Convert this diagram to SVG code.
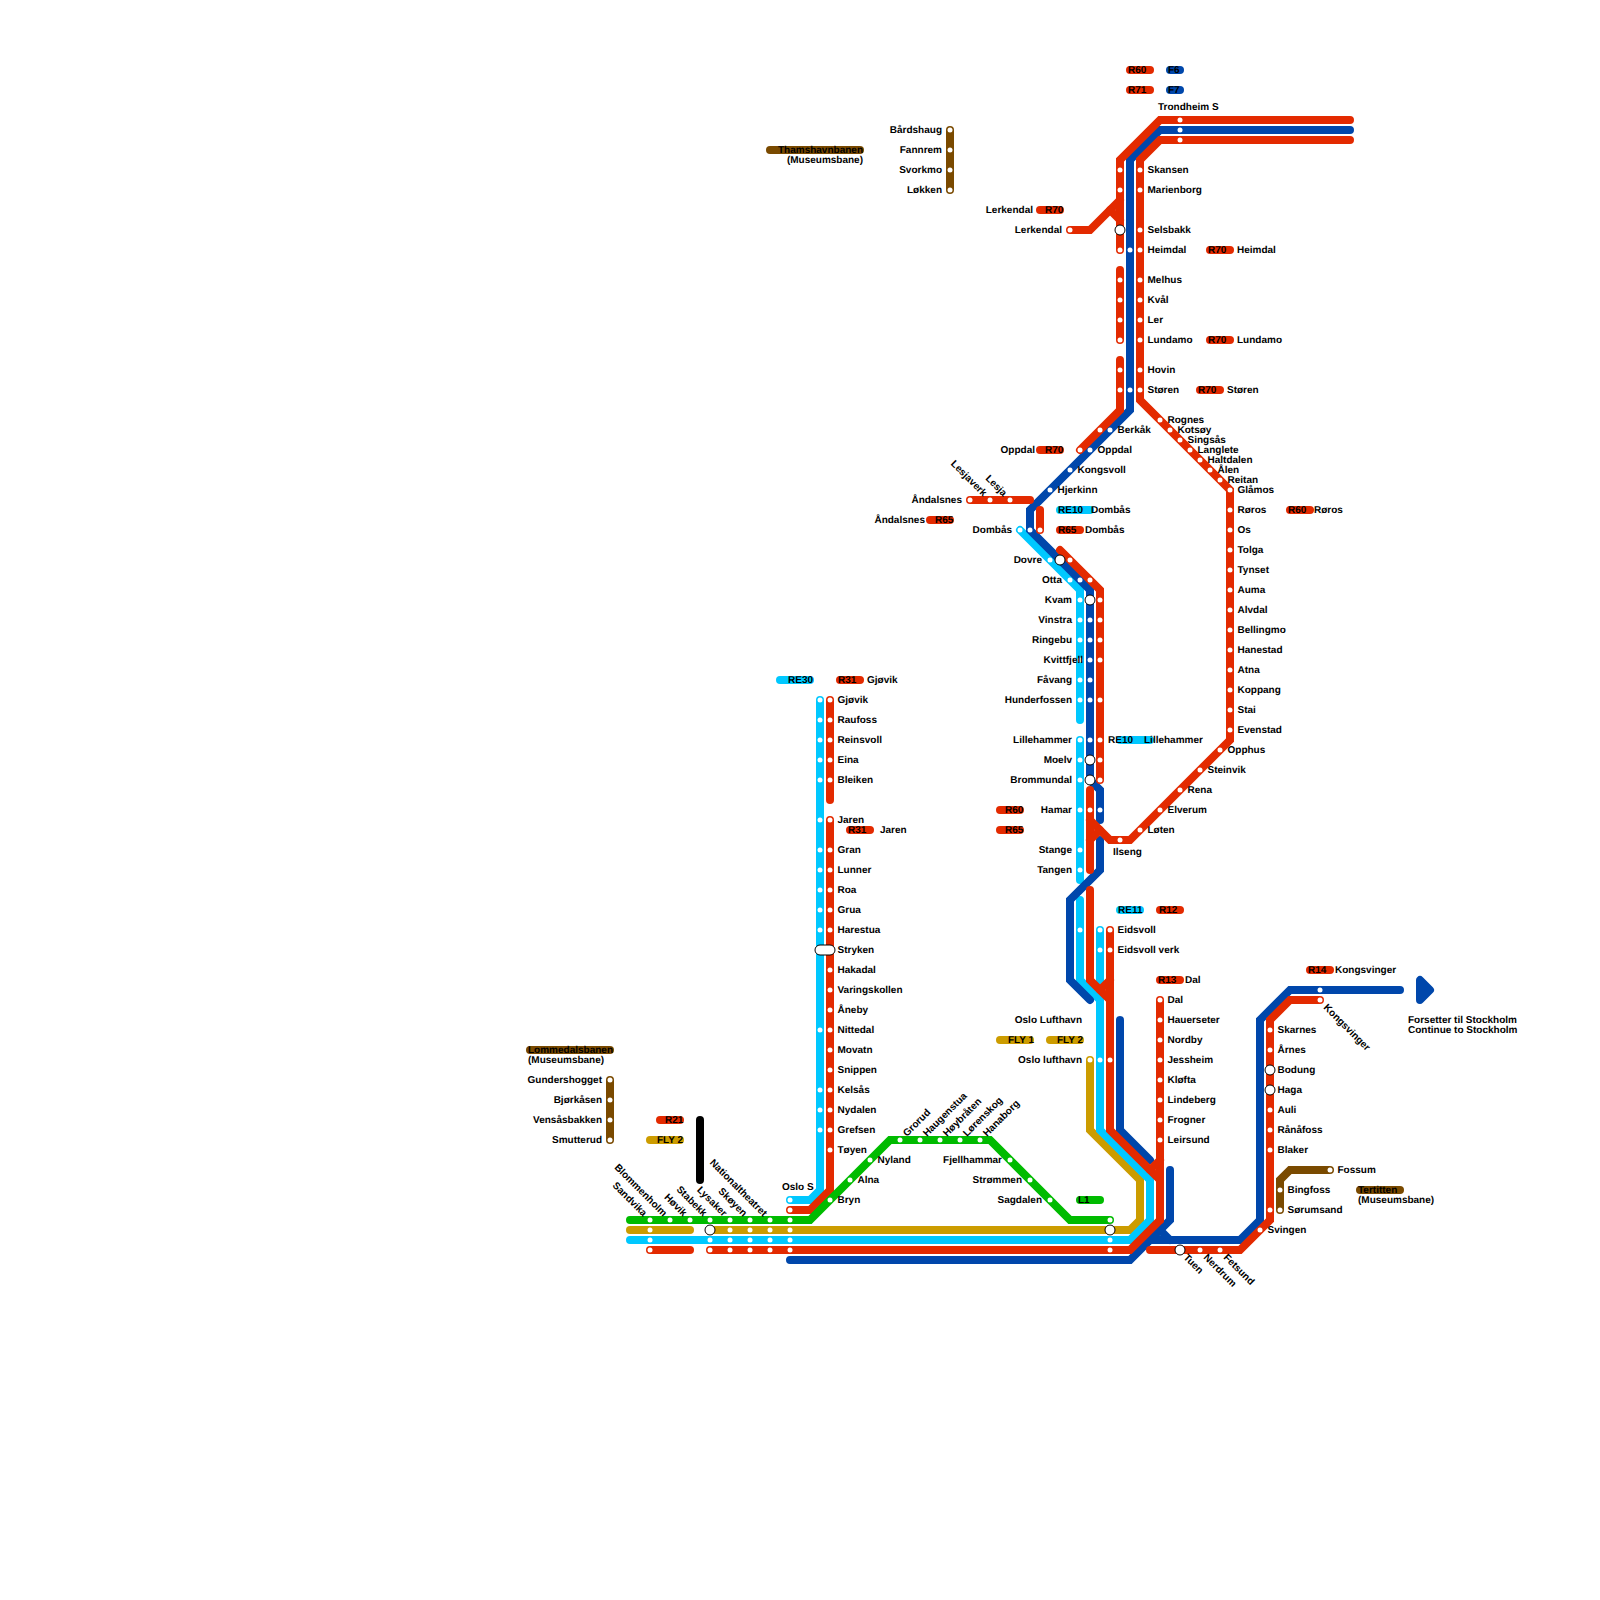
<svg xmlns="http://www.w3.org/2000/svg" width="1600" height="1600" viewBox="0 0 1600 1600">
<style>
.l{fill:none;stroke-width:8;stroke-linecap:round;stroke-linejoin:miter;stroke-miterlimit:10}
.r{stroke:#e32a00}.u{stroke:#0047ab}.c{stroke:#00c8ff}.g{stroke:#cc9c00}.n{stroke:#00bb00}.w{stroke:#7a4a00}.k{stroke:#000}
circle{fill:#fff}
.b{stroke:#000;stroke-width:1}
text{font:bold 10px "Liberation Sans",Arial,sans-serif;fill:#000;text-rendering:geometricPrecision}
.e{text-anchor:end}
</style>
<rect width="1600" height="1600" fill="#fff"/>
<g id="connectors">
<path class="l k" d="M700 1120V1180"/>
<path class="l w" d="M950 130V190"/>
<path class="l w" d="M610 1080V1140"/>
<path class="l w" d="M1280 1210V1180L1290 1170H1330"/>
<path class="l g" d="M630 1230H690"/>
<path class="l g" d="M710 1230H1130L1140 1220V1180L1090 1130V1060"/>
<path class="l c" d="M630 1240H1130L1150 1220V1180L1100 1130V1000L1080 980V900"/>
<path class="l c" d="M1100 930V990"/>
<path class="l c" d="M790 1200H810L820 1190V700"/>
<path class="l c" d="M1020 530L1080 590V720"/>
<path class="l c" d="M1080 740V880"/>
<path class="l u" d="M1350 130H1160L1130 160V410L1030 510V530L1090 590V780L1100 790V820"/>
<path class="l u" d="M1100 840V870L1070 900V980L1090 1000"/>
<path class="l u" d="M1120 1020V1130L1150 1160"/>
<path class="l u" d="M1170 1170V1220L1130 1260H790"/>
<path class="l u" d="M1150 1240H1240L1260 1220V1020L1290 990H1400"/>
<path class="l u" d="M1160 1230L1170 1240"/>
<path class="u" fill="#0047ab" stroke-width="8" stroke-linejoin="round" d="M1420 980V1000L1430 990Z"/>
<path class="l r" d="M1350 120H1160L1120 160V250"/>
<path class="l r" d="M1120 270V340"/>
<path class="l r" d="M1120 360V410L1080 450"/>
<path class="l r" d="M1350 140H1160L1140 160V400L1230 490V740L1130 840H1110L1090 820"/>
<path class="l r" d="M1070 230H1090L1120 200"/>
<path class="l r" d="M1110 210L1120 220"/>
<path class="l r" d="M970 500H1030"/>
<path class="l r" d="M1040 510V530"/>
<path class="l r" d="M1060 550L1100 590V780"/>
<path class="l r" d="M1090 790V870"/>
<path class="l r" d="M1090 840L1100 830"/>
<path class="l r" d="M1090 890V980L1110 1000V1130L1160 1180V1220L1130 1250H710"/>
<path class="l r" d="M1110 930V1000"/>
<path class="l r" d="M1100 990L1110 980"/>
<path class="l r" d="M650 1250H690"/>
<path class="l r" d="M1160 1000V1220"/>
<path class="l r" d="M1150 1170L1160 1160"/>
<path class="l r" d="M1150 1250H1240L1270 1220V1020L1290 1000H1320"/>
<path class="l r" d="M790 1210H810L830 1190V820"/>
<path class="l r" d="M830 700V800"/>
<path class="l n" d="M630 1220H810L890 1140H990L1070 1220H1110"/>
</g>
<g id="line-labels">
<g id="tag-r60-top"><path class="l r" d="M1130 70H1150"/><text x="1128" y="73">R60</text></g>
<g id="tag-f6"><path class="l u" d="M1170 70H1180"/><text x="1168" y="73">F6</text></g>
<g id="tag-r71"><path class="l r" d="M1130 90H1150"/><text x="1128" y="93">R71</text></g>
<g id="tag-f7"><path class="l u" d="M1170 90H1180"/><text x="1168" y="93">F7</text></g>
<g id="tag-thamshavn"><path class="l w" d="M770 150H860"/><text class="e" x="863" y="153">Thamshavnbanen</text><text class="e" x="863" y="163">(Museumsbane)</text></g>
<g id="tag-r70-lerkendal"><path class="l r" d="M1040 210H1060"/><text x="1045" y="213">R70</text><text class="e" x="1033" y="213">Lerkendal</text></g>
<g id="tag-r70-heimdal"><path class="l r" d="M1210 250H1230"/><text x="1208" y="253">R70</text><text x="1237" y="253">Heimdal</text></g>
<g id="tag-r70-lundamo"><path class="l r" d="M1210 340H1230"/><text x="1208" y="343">R70</text><text x="1237" y="343">Lundamo</text></g>
<g id="tag-r70-storen"><path class="l r" d="M1200 390H1220"/><text x="1198" y="393">R70</text><text x="1227" y="393">Støren</text></g>
<g id="tag-r70-oppdal"><path class="l r" d="M1040 450H1060"/><text x="1045" y="453">R70</text><text class="e" x="1035" y="453">Oppdal</text></g>
<g id="tag-re10-dombas"><path class="l c" d="M1060 510H1090"/><text x="1058" y="513">RE10</text><text x="1091" y="513">Dombås</text></g>
<g id="tag-r65-dombas"><path class="l r" d="M1060 530H1080"/><text x="1058" y="533">R65</text><text x="1085" y="533">Dombås</text></g>
<g id="tag-r65-andalsnes"><path class="l r" d="M930 520H950"/><text x="935" y="523">R65</text><text class="e" x="925" y="523">Åndalsnes</text></g>
<g id="tag-r60-roros"><path class="l r" d="M1290 510H1310"/><text x="1288" y="513">R60</text><text x="1314" y="513">Røros</text></g>
<g id="tag-re30"><path class="l c" d="M780 680H810"/><text x="788" y="683">RE30</text></g>
<g id="tag-r31-gjovik"><path class="l r" d="M840 680H860"/><text x="838" y="683">R31</text><text x="867" y="683">Gjøvik</text></g>
<g id="tag-r31-jaren"><path class="l r" d="M850 830H870"/><text x="848" y="833">R31</text><text x="880" y="833">Jaren</text></g>
<g id="tag-re10-lillehammer"><path class="l c" d="M1120 740H1150"/><text x="1108" y="743">RE10</text><text x="1144" y="743">Lillehammer</text></g>
<g id="tag-r60"><path class="l r" d="M1000 810H1020"/><text x="1005" y="813">R60</text></g>
<g id="tag-r65"><path class="l r" d="M1000 830H1020"/><text x="1005" y="833">R65</text></g>
<g id="tag-re11"><path class="l c" d="M1120 910H1140"/><text x="1118" y="913">RE11</text></g>
<g id="tag-r12"><path class="l r" d="M1160 910H1180"/><text x="1159" y="913">R12</text></g>
<g id="tag-r13"><path class="l r" d="M1160 980H1180"/><text x="1158" y="983">R13</text><text x="1185" y="983">Dal</text></g>
<g id="tag-r14"><path class="l r" d="M1310 970H1330"/><text x="1308" y="973">R14</text><text x="1335" y="973">Kongsvinger</text></g>
<g id="tag-fly1"><path class="l g" d="M1000 1040H1030"/><text x="1008" y="1043">FLY 1</text></g>
<g id="tag-fly2"><path class="l g" d="M1050 1040H1080"/><text x="1057" y="1043">FLY 2</text></g>
<g id="tag-lommedal"><path class="l w" d="M530 1050H610"/><text x="528" y="1053">Lommedalsbanen</text><text x="528" y="1063">(Museumsbane)</text></g>
<g id="tag-r21"><path class="l r" d="M660 1120H680"/><text x="665" y="1123">R21</text></g>
<g id="tag-fly2-left"><path class="l g" d="M650 1140H680"/><text x="657" y="1143">FLY 2</text></g>
<g id="tag-l1"><path class="l n" d="M1080 1200H1100"/><text x="1078" y="1203">L1</text></g>
<g id="tag-tertitten"><path class="l w" d="M1360 1190H1400"/><text x="1358" y="1193">Tertitten</text><text x="1358" y="1203">(Museumsbane)</text></g>
<g id="tag-stockholm"><text x="1408" y="1023">Forsetter til Stockholm</text><text x="1408" y="1033">Continue to Stockholm</text></g>
</g>
<g id="stations">
<g id="trondheim"><circle cx="1180" cy="120" r="2.5"/><circle cx="1180" cy="130" r="2.5"/><circle cx="1180" cy="140" r="2.5"/><text x="1158" y="110">Trondheim S</text></g>
<g id="skansen"><circle cx="1120" cy="170" r="2.5"/><circle cx="1140" cy="170" r="2.5"/><text x="1147.5" y="173">Skansen</text></g>
<g id="marienborg"><circle cx="1120" cy="190" r="2.5"/><circle cx="1140" cy="190" r="2.5"/><text x="1147.5" y="193">Marienborg</text></g>
<g id="selsbakk"><circle class="b" cx="1120" cy="230" r="5"/><circle cx="1140" cy="230" r="2.5"/><text x="1147.5" y="233">Selsbakk</text></g>
<g id="heimdal"><circle cx="1120" cy="250" r="2.5"/><circle cx="1130" cy="250" r="2.5"/><circle cx="1140" cy="250" r="2.5"/><text x="1147.5" y="253">Heimdal</text></g>
<g id="melhus"><circle cx="1120" cy="280" r="2.5"/><circle cx="1140" cy="280" r="2.5"/><text x="1147.5" y="283">Melhus</text></g>
<g id="kval"><circle cx="1120" cy="300" r="2.5"/><circle cx="1140" cy="300" r="2.5"/><text x="1147.5" y="303">Kvål</text></g>
<g id="ler"><circle cx="1120" cy="320" r="2.5"/><circle cx="1140" cy="320" r="2.5"/><text x="1147.5" y="323">Ler</text></g>
<g id="lundamo"><circle cx="1120" cy="340" r="2.5"/><circle cx="1140" cy="340" r="2.5"/><text x="1147.5" y="343">Lundamo</text></g>
<g id="hovin"><circle cx="1120" cy="370" r="2.5"/><circle cx="1140" cy="370" r="2.5"/><text x="1147.5" y="373">Hovin</text></g>
<g id="storen"><circle cx="1120" cy="390" r="2.5"/><circle cx="1130" cy="390" r="2.5"/><circle cx="1140" cy="390" r="2.5"/><text x="1147.5" y="393">Støren</text></g>
<g id="lerkendal"><circle cx="1070" cy="230" r="2.5"/><text class="e" x="1062" y="233">Lerkendal</text></g>
<g id="berkak"><circle cx="1100" cy="430" r="2.5"/><circle cx="1110" cy="430" r="2.5"/><text x="1117.5" y="433">Berkåk</text></g>
<g id="oppdal"><circle cx="1080" cy="450" r="2.5"/><circle cx="1090" cy="450" r="2.5"/><text x="1097.5" y="453">Oppdal</text></g>
<g id="kongsvoll"><circle cx="1070" cy="470" r="2.5"/><text x="1077.5" y="473">Kongsvoll</text></g>
<g id="hjerkinn"><circle cx="1050" cy="490" r="2.5"/><text x="1057.5" y="493">Hjerkinn</text></g>
<g id="rognes"><circle cx="1160" cy="420" r="2.5"/><text x="1167.5" y="423">Rognes</text></g>
<g id="kotsoy"><circle cx="1170" cy="430" r="2.5"/><text x="1177.5" y="433">Kotsøy</text></g>
<g id="singsas"><circle cx="1180" cy="440" r="2.5"/><text x="1187.5" y="443">Singsås</text></g>
<g id="langlete"><circle cx="1190" cy="450" r="2.5"/><text x="1197.5" y="453">Langlete</text></g>
<g id="haltdalen"><circle cx="1200" cy="460" r="2.5"/><text x="1207.5" y="463">Haltdalen</text></g>
<g id="alen"><circle cx="1210" cy="470" r="2.5"/><text x="1217.5" y="473">Ålen</text></g>
<g id="reitan"><circle cx="1220" cy="480" r="2.5"/><text x="1227.5" y="483">Reitan</text></g>
<g id="glamos"><circle cx="1230" cy="490" r="2.5"/><text x="1237.5" y="493">Glåmos</text></g>
<g id="roros"><circle cx="1230" cy="510" r="2.5"/><text x="1237.5" y="513">Røros</text></g>
<g id="os"><circle cx="1230" cy="530" r="2.5"/><text x="1237.5" y="533">Os</text></g>
<g id="tolga"><circle cx="1230" cy="550" r="2.5"/><text x="1237.5" y="553">Tolga</text></g>
<g id="tynset"><circle cx="1230" cy="570" r="2.5"/><text x="1237.5" y="573">Tynset</text></g>
<g id="auma"><circle cx="1230" cy="590" r="2.5"/><text x="1237.5" y="593">Auma</text></g>
<g id="alvdal"><circle cx="1230" cy="610" r="2.5"/><text x="1237.5" y="613">Alvdal</text></g>
<g id="bellingmo"><circle cx="1230" cy="630" r="2.5"/><text x="1237.5" y="633">Bellingmo</text></g>
<g id="hanestad"><circle cx="1230" cy="650" r="2.5"/><text x="1237.5" y="653">Hanestad</text></g>
<g id="atna"><circle cx="1230" cy="670" r="2.5"/><text x="1237.5" y="673">Atna</text></g>
<g id="koppang"><circle cx="1230" cy="690" r="2.5"/><text x="1237.5" y="693">Koppang</text></g>
<g id="stai"><circle cx="1230" cy="710" r="2.5"/><text x="1237.5" y="713">Stai</text></g>
<g id="evenstad"><circle cx="1230" cy="730" r="2.5"/><text x="1237.5" y="733">Evenstad</text></g>
<g id="opphus"><circle cx="1220" cy="750" r="2.5"/><text x="1227.5" y="753">Opphus</text></g>
<g id="steinvik"><circle cx="1200" cy="770" r="2.5"/><text x="1207.5" y="773">Steinvik</text></g>
<g id="rena"><circle cx="1180" cy="790" r="2.5"/><text x="1187.5" y="793">Rena</text></g>
<g id="elverum"><circle cx="1160" cy="810" r="2.5"/><text x="1167.5" y="813">Elverum</text></g>
<g id="loten"><circle cx="1140" cy="830" r="2.5"/><text x="1147.5" y="833">Løten</text></g>
<g id="ilseng"><circle cx="1120" cy="840" r="2.5"/><text x="1113" y="855">Ilseng</text></g>
<g id="andalsnes"><circle cx="970" cy="500" r="2.5"/><text class="e" x="962" y="503">Åndalsnes</text></g>
<g id="lesjaverk"><circle cx="990" cy="500" r="2.5"/><text class="e" transform="translate(983 497) rotate(45)">Lesjaverk</text></g>
<g id="lesja"><circle cx="1010" cy="500" r="2.5"/><text class="e" transform="translate(1003 497) rotate(45)">Lesja</text></g>
<g id="dombas"><circle cx="1020" cy="530" r="2.5"/><circle cx="1030" cy="530" r="2.5"/><circle cx="1040" cy="530" r="2.5"/><text class="e" x="1012" y="533">Dombås</text></g>
<g id="dovre"><circle cx="1050" cy="560" r="2.5"/><circle class="b" cx="1060" cy="560" r="5"/><circle cx="1070" cy="560" r="2.5"/><text class="e" x="1042" y="563">Dovre</text></g>
<g id="otta"><circle cx="1070" cy="580" r="2.5"/><circle cx="1080" cy="580" r="2.5"/><circle cx="1090" cy="580" r="2.5"/><text class="e" x="1062" y="583">Otta</text></g>
<g id="kvam"><circle cx="1080" cy="600" r="2.5"/><circle class="b" cx="1090" cy="600" r="5"/><circle cx="1100" cy="600" r="2.5"/><text class="e" x="1072" y="603">Kvam</text></g>
<g id="vinstra"><circle cx="1080" cy="620" r="2.5"/><circle cx="1090" cy="620" r="2.5"/><circle cx="1100" cy="620" r="2.5"/><text class="e" x="1072" y="623">Vinstra</text></g>
<g id="ringebu"><circle cx="1080" cy="640" r="2.5"/><circle cx="1090" cy="640" r="2.5"/><circle cx="1100" cy="640" r="2.5"/><text class="e" x="1072" y="643">Ringebu</text></g>
<g id="kvittfjell"><circle cx="1080" cy="660" r="2.5"/><circle cx="1090" cy="660" r="2.5"/><circle cx="1100" cy="660" r="2.5"/><text class="e" x="1083" y="663">Kvittfjell</text></g>
<g id="favang"><circle cx="1080" cy="680" r="2.5"/><circle cx="1090" cy="680" r="2.5"/><text class="e" x="1072" y="683">Fåvang</text></g>
<g id="hunderfossen"><circle cx="1080" cy="700" r="2.5"/><circle cx="1090" cy="700" r="2.5"/><circle cx="1100" cy="700" r="2.5"/><text class="e" x="1072" y="703">Hunderfossen</text></g>
<g id="lillehammer"><circle cx="1080" cy="740" r="2.5"/><circle cx="1090" cy="740" r="2.5"/><circle cx="1100" cy="740" r="2.5"/><text class="e" x="1072" y="743">Lillehammer</text></g>
<g id="moelv"><circle cx="1080" cy="760" r="2.5"/><circle class="b" cx="1090" cy="760" r="5"/><circle cx="1100" cy="760" r="2.5"/><text class="e" x="1072" y="763">Moelv</text></g>
<g id="brommundal"><circle cx="1080" cy="780" r="2.5"/><circle class="b" cx="1090" cy="780" r="5"/><circle cx="1100" cy="780" r="2.5"/><text class="e" x="1072" y="783">Brommundal</text></g>
<g id="hamar"><circle cx="1080" cy="810" r="2.5"/><circle cx="1090" cy="810" r="2.5"/><circle cx="1100" cy="810" r="2.5"/><text class="e" x="1072" y="813">Hamar</text></g>
<g id="stange"><circle cx="1080" cy="850" r="2.5"/><text class="e" x="1072" y="853">Stange</text></g>
<g id="tangen"><circle cx="1080" cy="870" r="2.5"/><text class="e" x="1072" y="873">Tangen</text></g>
<g id="eidsvoll"><circle cx="1080" cy="930" r="2.5"/><circle cx="1100" cy="930" r="2.5"/><circle cx="1110" cy="930" r="2.5"/><text x="1117.5" y="933">Eidsvoll</text></g>
<g id="eidsvoll-verk"><circle cx="1100" cy="950" r="2.5"/><circle cx="1110" cy="950" r="2.5"/><text x="1117.5" y="953">Eidsvoll verk</text></g>
<g id="oslo-lufthavn-top"><text class="e" x="1082" y="1023">Oslo Lufthavn</text></g>
<g id="oslo-lufthavn"><circle cx="1090" cy="1060" r="2.5"/><circle cx="1100" cy="1060" r="2.5"/><circle cx="1110" cy="1060" r="2.5"/><text class="e" x="1082" y="1063">Oslo lufthavn</text></g>
<g id="dal"><circle cx="1160" cy="1000" r="2.5"/><text x="1167.5" y="1003">Dal</text></g>
<g id="hauerseter"><circle cx="1160" cy="1020" r="2.5"/><text x="1167.5" y="1023">Hauerseter</text></g>
<g id="nordby"><circle cx="1160" cy="1040" r="2.5"/><text x="1167.5" y="1043">Nordby</text></g>
<g id="jessheim"><circle cx="1160" cy="1060" r="2.5"/><text x="1167.5" y="1063">Jessheim</text></g>
<g id="klofta"><circle cx="1160" cy="1080" r="2.5"/><text x="1167.5" y="1083">Kløfta</text></g>
<g id="lindeberg"><circle cx="1160" cy="1100" r="2.5"/><text x="1167.5" y="1103">Lindeberg</text></g>
<g id="frogner"><circle cx="1160" cy="1120" r="2.5"/><text x="1167.5" y="1123">Frogner</text></g>
<g id="leirsund"><circle cx="1160" cy="1140" r="2.5"/><text x="1167.5" y="1143">Leirsund</text></g>
<g id="gjovik"><circle cx="820" cy="700" r="2.5"/><circle cx="830" cy="700" r="2.5"/><text x="837.5" y="703">Gjøvik</text></g>
<g id="raufoss"><circle cx="820" cy="720" r="2.5"/><circle cx="830" cy="720" r="2.5"/><text x="837.5" y="723">Raufoss</text></g>
<g id="reinsvoll"><circle cx="820" cy="740" r="2.5"/><circle cx="830" cy="740" r="2.5"/><text x="837.5" y="743">Reinsvoll</text></g>
<g id="eina"><circle cx="820" cy="760" r="2.5"/><circle cx="830" cy="760" r="2.5"/><text x="837.5" y="763">Eina</text></g>
<g id="bleiken"><circle cx="820" cy="780" r="2.5"/><circle cx="830" cy="780" r="2.5"/><text x="837.5" y="783">Bleiken</text></g>
<g id="jaren"><circle cx="820" cy="820" r="2.5"/><circle cx="830" cy="820" r="2.5"/><text x="837.5" y="823">Jaren</text></g>
<g id="gran"><circle cx="820" cy="850" r="2.5"/><circle cx="830" cy="850" r="2.5"/><text x="837.5" y="853">Gran</text></g>
<g id="lunner"><circle cx="820" cy="870" r="2.5"/><circle cx="830" cy="870" r="2.5"/><text x="837.5" y="873">Lunner</text></g>
<g id="roa"><circle cx="820" cy="890" r="2.5"/><circle cx="830" cy="890" r="2.5"/><text x="837.5" y="893">Roa</text></g>
<g id="grua"><circle cx="820" cy="910" r="2.5"/><circle cx="830" cy="910" r="2.5"/><text x="837.5" y="913">Grua</text></g>
<g id="harestua"><circle cx="820" cy="930" r="2.5"/><circle cx="830" cy="930" r="2.5"/><text x="837.5" y="933">Harestua</text></g>
<g id="stryken"><rect x="815" y="945" width="20" height="10" rx="5" fill="#fff" stroke="#000"/><text x="837.5" y="953">Stryken</text></g>
<g id="hakadal"><circle cx="830" cy="970" r="2.5"/><text x="837.5" y="973">Hakadal</text></g>
<g id="varingskollen"><circle cx="830" cy="990" r="2.5"/><text x="837.5" y="993">Varingskollen</text></g>
<g id="aneby"><circle cx="830" cy="1010" r="2.5"/><text x="837.5" y="1013">Åneby</text></g>
<g id="nittedal"><circle cx="820" cy="1030" r="2.5"/><circle cx="830" cy="1030" r="2.5"/><text x="837.5" y="1033">Nittedal</text></g>
<g id="movatn"><circle cx="830" cy="1050" r="2.5"/><text x="837.5" y="1053">Movatn</text></g>
<g id="snippen"><circle cx="830" cy="1070" r="2.5"/><text x="837.5" y="1073">Snippen</text></g>
<g id="kelsas"><circle cx="820" cy="1090" r="2.5"/><circle cx="830" cy="1090" r="2.5"/><text x="837.5" y="1093">Kelsås</text></g>
<g id="nydalen"><circle cx="820" cy="1110" r="2.5"/><circle cx="830" cy="1110" r="2.5"/><text x="837.5" y="1113">Nydalen</text></g>
<g id="grefsen"><circle cx="820" cy="1130" r="2.5"/><circle cx="830" cy="1130" r="2.5"/><text x="837.5" y="1133">Grefsen</text></g>
<g id="toyen"><circle cx="830" cy="1150" r="2.5"/><text x="837.5" y="1153">Tøyen</text></g>
<g id="bardshaug"><circle cx="950" cy="130" r="2.5"/><text class="e" x="942" y="133">Bårdshaug</text></g>
<g id="fannrem"><circle cx="950" cy="150" r="2.5"/><text class="e" x="942" y="153">Fannrem</text></g>
<g id="svorkmo"><circle cx="950" cy="170" r="2.5"/><text class="e" x="942" y="173">Svorkmo</text></g>
<g id="lokken"><circle cx="950" cy="190" r="2.5"/><text class="e" x="942" y="193">Løkken</text></g>
<g id="gundershogget"><circle cx="610" cy="1080" r="2.5"/><text class="e" x="602" y="1083">Gundershogget</text></g>
<g id="bjorkasen"><circle cx="610" cy="1100" r="2.5"/><text class="e" x="602" y="1103">Bjørkåsen</text></g>
<g id="vensasbakken"><circle cx="610" cy="1120" r="2.5"/><text class="e" x="602" y="1123">Vensåsbakken</text></g>
<g id="smutterud"><circle cx="610" cy="1140" r="2.5"/><text class="e" x="602" y="1143">Smutterud</text></g>
<g id="sandvika"><circle cx="650" cy="1220" r="2.5"/><circle cx="650" cy="1230" r="2.5"/><circle cx="650" cy="1240" r="2.5"/><circle cx="650" cy="1250" r="2.5"/><text class="e" transform="translate(643 1217) rotate(45)">Sandvika</text></g>
<g id="blommenholm"><circle cx="670" cy="1220" r="2.5"/><text class="e" transform="translate(663 1217) rotate(45)">Blommenholm</text></g>
<g id="hovik"><circle cx="690" cy="1220" r="2.5"/><text class="e" transform="translate(683 1217) rotate(45)">Høvik</text></g>
<g id="stabekk"><circle cx="710" cy="1220" r="2.5"/><circle class="b" cx="710" cy="1230" r="5"/><circle cx="710" cy="1240" r="2.5"/><circle cx="710" cy="1250" r="2.5"/><text class="e" transform="translate(703 1217) rotate(45)">Stabekk</text></g>
<g id="lysaker"><circle cx="730" cy="1220" r="2.5"/><circle cx="730" cy="1230" r="2.5"/><circle cx="730" cy="1240" r="2.5"/><circle cx="730" cy="1250" r="2.5"/><text class="e" transform="translate(723 1217) rotate(45)">Lysaker</text></g>
<g id="skoyen"><circle cx="750" cy="1220" r="2.5"/><circle cx="750" cy="1230" r="2.5"/><circle cx="750" cy="1240" r="2.5"/><circle cx="750" cy="1250" r="2.5"/><text class="e" transform="translate(743 1217) rotate(45)">Skøyen</text></g>
<g id="nationaltheatret"><circle cx="770" cy="1220" r="2.5"/><circle cx="770" cy="1230" r="2.5"/><circle cx="770" cy="1240" r="2.5"/><circle cx="770" cy="1250" r="2.5"/><text class="e" transform="translate(763 1217) rotate(45)">Nationaltheatret</text></g>
<g id="oslo-s"><circle cx="790" cy="1200" r="2.5"/><circle cx="790" cy="1210" r="2.5"/><circle cx="790" cy="1220" r="2.5"/><circle cx="790" cy="1230" r="2.5"/><circle cx="790" cy="1240" r="2.5"/><circle cx="790" cy="1250" r="2.5"/><text x="782" y="1190">Oslo S</text></g>
<g id="bryn"><circle cx="830" cy="1200" r="2.5"/><text x="837.5" y="1203">Bryn</text></g>
<g id="alna"><circle cx="850" cy="1180" r="2.5"/><text x="857.5" y="1183">Alna</text></g>
<g id="nyland"><circle cx="870" cy="1160" r="2.5"/><text x="877.5" y="1163">Nyland</text></g>
<g id="grorud"><circle cx="900" cy="1140" r="2.5"/><text transform="translate(907 1137) rotate(-45)">Grorud</text></g>
<g id="haugenstua"><circle cx="920" cy="1140" r="2.5"/><text transform="translate(927 1137) rotate(-45)">Haugenstua</text></g>
<g id="hoybraten"><circle cx="940" cy="1140" r="2.5"/><text transform="translate(947 1137) rotate(-45)">Høybråten</text></g>
<g id="lorenskog"><circle cx="960" cy="1140" r="2.5"/><text transform="translate(967 1137) rotate(-45)">Lørenskog</text></g>
<g id="hanaborg"><circle cx="980" cy="1140" r="2.5"/><text transform="translate(987 1137) rotate(-45)">Hanaborg</text></g>
<g id="fjellhammar"><circle cx="1010" cy="1160" r="2.5"/><text class="e" x="1002" y="1163">Fjellhammar</text></g>
<g id="strommen"><circle cx="1030" cy="1180" r="2.5"/><text class="e" x="1022" y="1183">Strømmen</text></g>
<g id="sagdalen"><circle cx="1050" cy="1200" r="2.5"/><text class="e" x="1042" y="1203">Sagdalen</text></g>
<g id="lillestrom"><circle cx="1110" cy="1220" r="2.5"/><circle class="b" cx="1110" cy="1230" r="5"/><circle cx="1110" cy="1240" r="2.5"/><circle cx="1110" cy="1250" r="2.5"/></g>
<g id="tuen"><circle class="b" cx="1180" cy="1250" r="5"/><text transform="translate(1183 1258) rotate(45)">Tuen</text></g>
<g id="nerdrum"><circle cx="1200" cy="1250" r="2.5"/><text transform="translate(1203 1258) rotate(45)">Nerdrum</text></g>
<g id="fetsund"><circle cx="1220" cy="1250" r="2.5"/><text transform="translate(1223 1258) rotate(45)">Fetsund</text></g>
<g id="svingen"><circle cx="1260" cy="1230" r="2.5"/><text x="1267.5" y="1233">Svingen</text></g>
<g id="sorumsand"><circle cx="1270" cy="1210" r="2.5"/><circle cx="1280" cy="1210" r="2.5"/><text x="1287.5" y="1213">Sørumsand</text></g>
<g id="bingfoss"><circle cx="1280" cy="1190" r="2.5"/><text x="1287.5" y="1193">Bingfoss</text></g>
<g id="fossum"><circle cx="1330" cy="1170" r="2.5"/><text x="1337.5" y="1173">Fossum</text></g>
<g id="blaker"><circle cx="1270" cy="1150" r="2.5"/><text x="1277.5" y="1153">Blaker</text></g>
<g id="ranafoss"><circle cx="1270" cy="1130" r="2.5"/><text x="1277.5" y="1133">Rånåfoss</text></g>
<g id="auli"><circle cx="1270" cy="1110" r="2.5"/><text x="1277.5" y="1113">Auli</text></g>
<g id="haga"><circle class="b" cx="1270" cy="1090" r="5"/><text x="1277.5" y="1093">Haga</text></g>
<g id="bodung"><circle class="b" cx="1270" cy="1070" r="5"/><text x="1277.5" y="1073">Bodung</text></g>
<g id="arnes"><circle cx="1270" cy="1050" r="2.5"/><text x="1277.5" y="1053">Årnes</text></g>
<g id="skarnes"><circle cx="1270" cy="1030" r="2.5"/><text x="1277.5" y="1033">Skarnes</text></g>
<g id="kongsvinger"><circle cx="1320" cy="990" r="2.5"/><circle cx="1320" cy="1000" r="2.5"/><text transform="translate(1323 1008) rotate(45)">Kongsvinger</text></g>
</g>
</svg>
